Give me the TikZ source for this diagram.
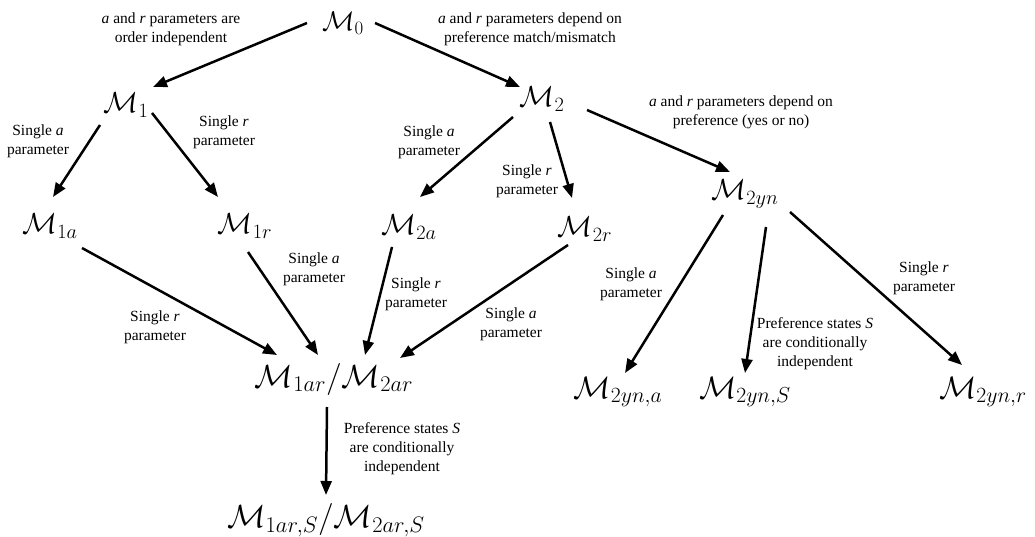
\RequirePackage{fix-cm}
\documentclass[tikz,border=0pt]{standalone}
\usepackage[no-math]{fontspec}
\setmainfont{Liberation Serif}
\usetikzlibrary{arrows.meta}

\begin{document}
\begin{tikzpicture}[
    x=1pt, y=-1pt,
    model/.style={inner sep=0pt, font=\fontsize{#1}{#1}\selectfont},
    model/.default=29,
    note/.style={inner sep=0pt, align=center, font=\fontsize{15.5}{19}\selectfont},
    arr/.style={-{Triangle[length=14pt,width=11pt]}, line width=2.5pt}
]
\useasboundingbox (0,0) rectangle (1035,537);

% Models
\node[model=27] (m0) at (343,23) {$\mathcal{M}_0$};
\node[model] (m1) at (126,105) {$\mathcal{M}_1$};
\node[model] (m2) at (542,99) {$\mathcal{M}_2$};
\node[model] (m1a) at (50,226) {$\mathcal{M}_{1a}$};
\node[model] (m1r) at (245,226) {$\mathcal{M}_{1r}$};
\node[model] (m2a) at (409,227) {$\mathcal{M}_{2a}$};
\node[model] (m2r) at (585,229) {$\mathcal{M}_{2r}$};
\node[model] (m2yn) at (745,194) {$\mathcal{M}_{2yn}$};
\node[model=32] (m1ar) at (334,379) {$\mathcal{M}_{1ar}/\mathcal{M}_{2ar}$};
\node[model=32] (m1arS) at (326,520) {$\mathcal{M}_{1ar,S}/\mathcal{M}_{2ar,S}$};
\node[model=31] (m2yna) at (618,392) {$\mathcal{M}_{2yn,a}$};
\node[model=31] (m2ynS) at (745,392) {$\mathcal{M}_{2yn,S}$};
\node[model=31] (m2ynr) at (983,392) {$\mathcal{M}_{2yn,r}$};

% Notes
\node[note] (n0a) at (171,29) {\textit{a} and \textit{r} parameters are\\order independent};
\node[note] (n0b) at (530,29) {\textit{a} and \textit{r} parameters depend on\\preference match/mismatch};
\node[note] (n2yn) at (741,112) {\textit{a} and \textit{r} parameters depend on\\preference (yes or no)};
\node[note] (n1a) at (38,141) {Single \textit{a}\\parameter};
\node[note] (n1r) at (224,132) {Single \textit{r}\\parameter};
\node[note] (n2a) at (429,142) {Single \textit{a}\\parameter};
\node[note] (n2r) at (527,181) {Single \textit{r}\\parameter};
\node[note] (n1ar) at (155,327) {Single \textit{r}\\parameter};
\node[note] (n1ra) at (314,269) {Single \textit{a}\\parameter};
\node[note] (n2ar) at (416,294) {Single \textit{r}\\parameter};
\node[note] (n2ra) at (511,324) {Single \textit{a}\\parameter};
\node[note] (n2yna) at (631,284) {Single \textit{a}\\parameter};
\node[note] (n2ynS) at (815,344) {Preference states \textit{S}\\are conditionally\\independent};
\node[note] (n2ynr) at (924,278) {Single \textit{r}\\parameter};
\node[note] (n1arS) at (402,449) {Preference states \textit{S}\\are conditionally\\independent};

% Arrows
\draw[arr] ([shift={(-36,0)}]m0.center) -- ([shift={(27,-18)}]m1.center);
\draw[arr] ([shift={(32,0)}]m0.center) -- ([shift={(-22,-12)}]m2.center);
\draw[arr] ([shift={(-26,20)}]m1.center) -- ([shift={(3,-29)}]m1a.center);
\draw[arr] ([shift={(26,8)}]m1.center) -- ([shift={(-27,-29)}]m1r.center);
\draw[arr] ([shift={(-29,18)}]m2.center) -- ([shift={(11,-30)}]m2a.center);
\draw[arr] ([shift={(8,23)}]m2.center) -- ([shift={(-13,-31)}]m2r.center);
\draw[arr] ([shift={(45,11)}]m2.center) -- ([shift={(-15,-22)}]m2yn.center);
\draw[arr] ([shift={(32,22)}]m1a.center) -- ([shift={(-57,-24)}]m1ar.center);
\draw[arr] ([shift={(3,26)}]m1r.center) -- ([shift={(-16,-24)}]m1ar.center);
\draw[arr] ([shift={(-17,20)}]m2a.center) -- ([shift={(31,-24)}]m1ar.center);
\draw[arr] ([shift={(-17,16)}]m2r.center) -- ([shift={(66,-21)}]m1ar.center);
\draw[arr] ([shift={(-7,28)}]m1ar.center) -- ([shift={(0,-25)}]m1arS.center);
\draw[arr] ([shift={(-22,21)}]m2yn.center) -- ([shift={(7,-19)}]m2yna.center);
\draw[arr] ([shift={(21,33)}]m2yn.center) -- ([shift={(0,-19)}]m2ynS.center);
\draw[arr] ([shift={(45,18)}]m2yn.center) -- ([shift={(-21,-27)}]m2ynr.center);

\end{tikzpicture}
\end{document}
